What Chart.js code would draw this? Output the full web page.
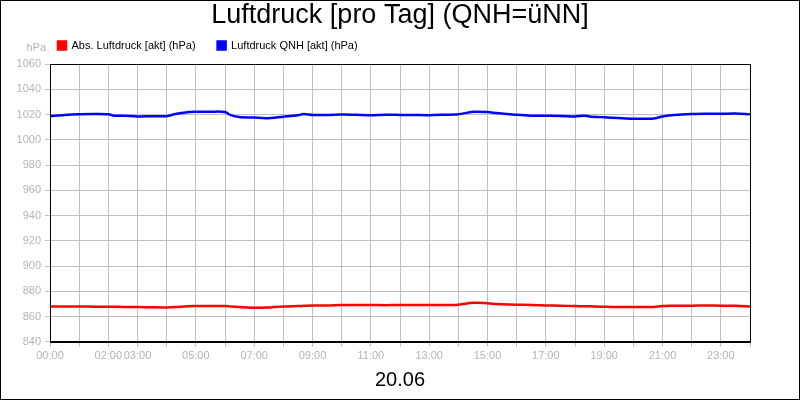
<!DOCTYPE html>
<html>
<head>
<meta charset="utf-8">
<script src="https://cdn.jsdelivr.net/npm/chart.js@4"></script>
<style>
    body { margin: 0; background: #fff; }
</style>
</head>
<body>
<canvas id="pressureChart" width="800" height="400"></canvas>
<script>
const hours = [0, 0.5, 1, 1.5, 2, 2.2, 2.5, 3, 3.5, 4, 4.3, 4.7, 5, 5.5, 6, 6.2, 6.5, 7, 7.4, 8, 8.5, 8.7, 9, 9.5, 10, 10.5, 11, 11.5, 12,
    12.5, 13, 13.5, 14, 14.5, 15, 15.3, 15.5, 16, 16.5, 17, 17.5, 18, 18.3, 18.5, 19, 19.5, 20, 20.5, 20.7, 21, 21.4, 22, 22.5, 23, 23.5, 24];
const qnh = [1018.6, 1019.6, 1020.2, 1020.4, 1020.2, 1019.0, 1019.0, 1018.5, 1018.6, 1018.7, 1020.4, 1021.8, 1022.1, 1022.2, 1022.0, 1019.5,
    1018.0, 1017.6, 1017.1, 1018.3, 1019.4, 1020.5, 1019.6, 1019.6, 1020.0, 1019.8, 1019.5, 1019.8, 1019.7, 1019.6, 1019.5, 1019.8, 1020.2,
    1022.1, 1021.9, 1021.2, 1020.8, 1019.8, 1019.1, 1019.0, 1018.9, 1018.4, 1019.1, 1018.5, 1017.8, 1017.2, 1016.7, 1016.7, 1016.9, 1018.4,
    1019.6, 1020.4, 1020.6, 1020.6, 1020.8, 1020.2];
const absDruck = [868.0, 868.0, 868.0, 867.8, 867.7, 867.8, 867.6, 867.5, 867.3, 867.2, 867.5, 868.2, 868.3, 868.4, 868.3, 868.0, 867.6,
    867.0, 867.1, 868.0, 868.3, 868.5, 868.8, 868.8, 869.1, 869.1, 869.1, 869.0, 869.1, 869.1, 869.1, 869.2, 869.4, 870.9, 870.5, 870.0,
    869.8, 869.4, 869.1, 868.8, 868.6, 868.3, 868.2, 868.1, 867.7, 867.6, 867.5, 867.5, 867.5, 868.3, 868.5, 868.6, 868.7, 868.6, 868.5, 868.0];
const tickLabels = ["00:00", "", "02:00", "03:00", "", "05:00", "", "07:00", "", "09:00", "", "11:00", "", "13:00", "", "15:00", "",
    "17:00", "", "19:00", "", "21:00", "", "23:00", ""];

const grey = '#b4b4b4';
const fontFam = "'Liberation Sans', Arial, sans-serif";

// weisser Hintergrund, Rahmen, Plotrahmen und "hPa"
const frame = {
    id: 'frame',
    afterLayout(chart) {
        // Legende nach rechts/oben schieben (ueber den Plot)
        chart.legend.left += 36;
        chart.legend.top -= 11;
    },
    beforeDraw(chart) {
        const c = chart.ctx;
        c.save();
        c.fillStyle = '#fff';
        c.fillRect(0, 0, chart.width, chart.height);
        c.restore();
    },
    afterDraw(chart) {
        const c = chart.ctx;
        const a = chart.chartArea;
        c.save();
        c.strokeStyle = '#000';
        c.lineWidth = 1;
        c.strokeRect(0.5, 0.5, chart.width - 1, chart.height - 1);
        c.strokeRect(Math.round(a.left) + 0.5, Math.round(a.top) + 0.5, Math.round(a.right - a.left), Math.round(a.bottom - a.top));
        c.fillStyle = grey;
        c.font = "11px " + fontFam;
        c.textAlign = 'right';
        c.textBaseline = 'middle';
        c.fillText('hPa', a.left - 4, a.top - 16);
        c.restore();
    }
};

new Chart(document.getElementById('pressureChart'), {
    type: 'line',
    data: {
        labels: hours,
        datasets: [{
            label: 'Abs. Luftdruck [akt] (hPa)',
            data: absDruck,
            borderColor: '#ff0000',
            backgroundColor: '#ff0000',
            borderWidth: 2.5,
            pointRadius: 0,
            tension: 0.3
        }, {
            label: 'Luftdruck QNH [akt] (hPa)',
            data: qnh,
            borderColor: '#0000ff',
            backgroundColor: '#0000ff',
            borderWidth: 2.5,
            pointRadius: 0,
            tension: 0.3
        }]
    },
    options: {
        responsive: false,
        animation: false,
        layout: {
            padding: { left: 0, right: 0, top: 0, bottom: 8 }
        },
        plugins: {
            title: {
                display: true,
                text: 'Luftdruck [pro Tag] (QNH=üNN]',
                color: '#000',
                font: { family: fontFam, size: 27, weight: 'normal', lineHeight: 1.0 },
                padding: { top: 2, bottom: 0 }
            },
            legend: {
                position: 'top',
                align: 'start',
                maxHeight: 35,
                labels: {
                    color: '#000',
                    boxWidth: 8,
                    boxHeight: 8,
                    padding: 22,
                    font: { family: fontFam, size: 11 }
                }
            },
            tooltip: { enabled: false }
        },
        scales: {
            x: {
                type: 'linear',
                min: 0,
                max: 24,
                afterBuildTicks: (axis) => {
                    axis.ticks = tickLabels.map((t, i) => ({ value: i }));
                },
                ticks: {
                    autoSkip: false,
                    maxRotation: 0,
                    color: grey,
                    padding: 3,
                    font: { family: fontFam, size: 11 },
                    callback: (value, i) => tickLabels[i]
                },
                grid: { color: '#c0c0c0', tickLength: 5 },
                border: { color: '#000' },
                title: {
                    display: true,
                    text: '20.06',
                    color: '#000',
                    font: { family: fontFam, size: 20 },
                    padding: { top: 2, bottom: 0 }
                }
            },
            y: {
                min: 840,
                max: 1060,
                ticks: {
                    stepSize: 20,
                    color: grey,
                    padding: 4,
                    font: { family: fontFam, size: 11 },
                    callback: (value) => String(value)
                },
                grid: { color: '#c0c0c0', tickLength: 5 },
                border: { color: '#000' },
                afterFit: (axis) => { axis.width = 50; }
            },
            rechts: {
                position: 'right',
                display: true,
                ticks: { display: false },
                grid: { display: false },
                border: { display: false },
                afterFit: (axis) => { axis.width = 50; }
            }
        }
    },
    plugins: [frame]
});
</script>
</body>
</html>
